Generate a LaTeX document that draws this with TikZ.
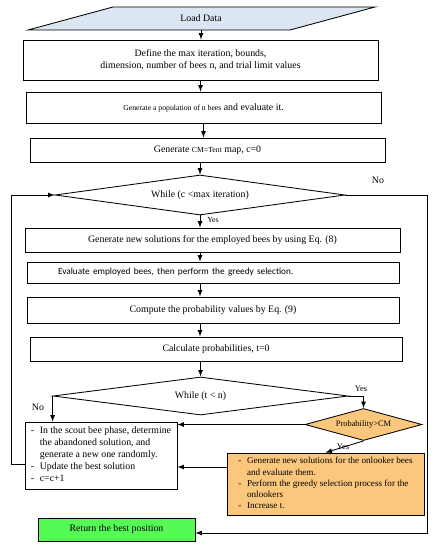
\documentclass[tikz,border=0pt]{standalone}
\usepackage{fontspec}
\setmainfont{Liberation Serif}
\newfontfamily\calibri{Carlito}
\usetikzlibrary{shapes.geometric,calc}
\definecolor{dataBlue}{RGB}{220,230,242}
\definecolor{beeOrange}{RGB}{250,199,125}
\definecolor{bestGreen}{RGB}{85,250,85}
\newcommand{\smallfont}{\fontsize{5.5}{6.5}\selectfont}
\begin{document}
\begin{tikzpicture}[
    x=0.025cm, y=-0.025cm,
    font=\fontsize{7}{8.5}\selectfont,
    line width=0.6pt,
    box/.style 2 args={draw, inner sep=0pt, minimum width=#1*0.025cm, minimum height=#2*0.025cm},
    cond/.style 2 args={diamond, draw, aspect=7, inner sep=0pt, minimum width=#1*0.025cm, minimum height=#2*0.025cm},
    arr/.style={->, >=latex}
]
    \useasboundingbox (0,0) rectangle (438,550);

    % input
    \draw[fill=dataBlue] (113,7) -- (375,7) -- (290,30) -- (28,30) -- cycle;
    \node[minimum height=23*0.025cm, inner sep=0pt] (data) at (201,18.5) {Load Data};

    % initialisation
    \node[box={355}{40}, align=center] (define) at (200.5,60)
        {Define the max iteration, bounds,\\dimension, number of bees n, and trial limit values};
    \node[box={355}{31}] (pop) at (203.5,107.5)
        {{\smallfont Generate a population of n bees} and evaluate it.};
    \node[box={355}{24}] (cm) at (207.5,150) {Generate {\smallfont CM=Tent} map, c=0};

    % main loop
    \node[cond={290}{40}] (whileC) at (200,195) {While (c <max iteration)};
    \node[box={375}{24}] (gen) at (212.5,240)
        {Generate new solutions for the employed bees by using Eq. (8)};
    \node[box={372}{21}, align=left, text width=310*0.025cm, inner xsep=31*0.025cm] (eval) at (213,272.5)
        {\calibri\fontsize{6.6}{8}\selectfont Evaluate employed bees, then perform the greedy selection.};
    \node[box={372}{26}] (comp) at (213,310) {Compute the probability values by Eq. (9)};
    \node[box={372}{24}] (calc) at (216,349) {Calculate probabilities, t=0};

    % onlooker loop
    \node[cond={295}{38}] (whileT) at (200.5,396) {While (t < n)};
    \node[cond={117}{32}, fill=beeOrange, font=\fontsize{6}{7}\selectfont] (prob) at (363.5,424.5) {Probability>CM};
    \node[box={152}{67}] (scout) at (101,455.5) {%
        \begin{tabular}{@{}l@{\hspace{4pt}}l@{}}
        - & In the scout bee phase, determine\\
          & the abandoned solution, and\\
          & generate a new one randomly.\\
        - & Update the best solution\\
        - & c=c+1
        \end{tabular}};
    \node[box={197}{62}, fill=beeOrange, font=\fontsize{6.5}{8}\selectfont] (onlook) at (325.5,484) {%
        \begin{tabular}{@{}l@{\hspace{4pt}}l@{}}
        - & Generate new solutions for the onlooker bees\\
          & and evaluate them.\\
        - & Perform the greedy selection process for the\\
          & onlookers\\
        - & Increase t.
        \end{tabular}};
    \node[box={157}{23}, fill=bestGreen] (ret) at (116.5,529.5) {Return the best position};

    % labels
    \node (noC) at (378,180) {No};
    \node[font=\fontsize{5.5}{6.5}\selectfont] (yesC) at (213,220) {Yes};
    \node (noT) at (38,407) {No};
    \node[font=\fontsize{6}{7}\selectfont] (yesT) at (361,389) {Yes};
    \node[font=\fontsize{6}{7}\selectfont] (yesP) at (343,447) {Yes};

    % connectors
    \draw[arr] (data.south) -- (data.south |- define.north);
    \draw[arr] (define.south) -- (define.south |- pop.north);
    \draw[arr] (pop.south) -- (pop.south |- cm.north);
    \draw[arr] (cm.south -| whileC.north) -- (whileC.north);
    \draw[arr] (whileC.south) -- (whileC.south |- gen.north);
    \draw[arr] (gen.south -| whileC.south) -- (whileC.south |- eval.north);
    \draw[arr] (eval.south -| whileC.south) -- (whileC.south |- comp.north);
    \draw[arr] (comp.south -| whileC.south) -- (whileC.south |- calc.north);
    \draw[arr] (calc.south -| whileT.north) -- (whileT.north);
    \draw[arr] (whileT.west) -- (whileT.west |- scout.north);
    \draw[arr] (whileT.east) -| (prob.north);
    \draw[arr] (prob.west) -- (prob.west -| scout.east);
    \draw[arr] (prob.south) -- (onlook.north);
    \draw[arr] ($(onlook.west)+(0,-17)$) coordinate (oa) -- (oa -| scout.east);
    \draw[arr] ($(scout.west)+(0,8.5)$) -- ++(-13,0) |- (whileC.west);
    \draw[arr] (whileC.east) -- ++(82,0) |- ($(ret.east)+(0,3.5)$);
\end{tikzpicture}
\end{document}
